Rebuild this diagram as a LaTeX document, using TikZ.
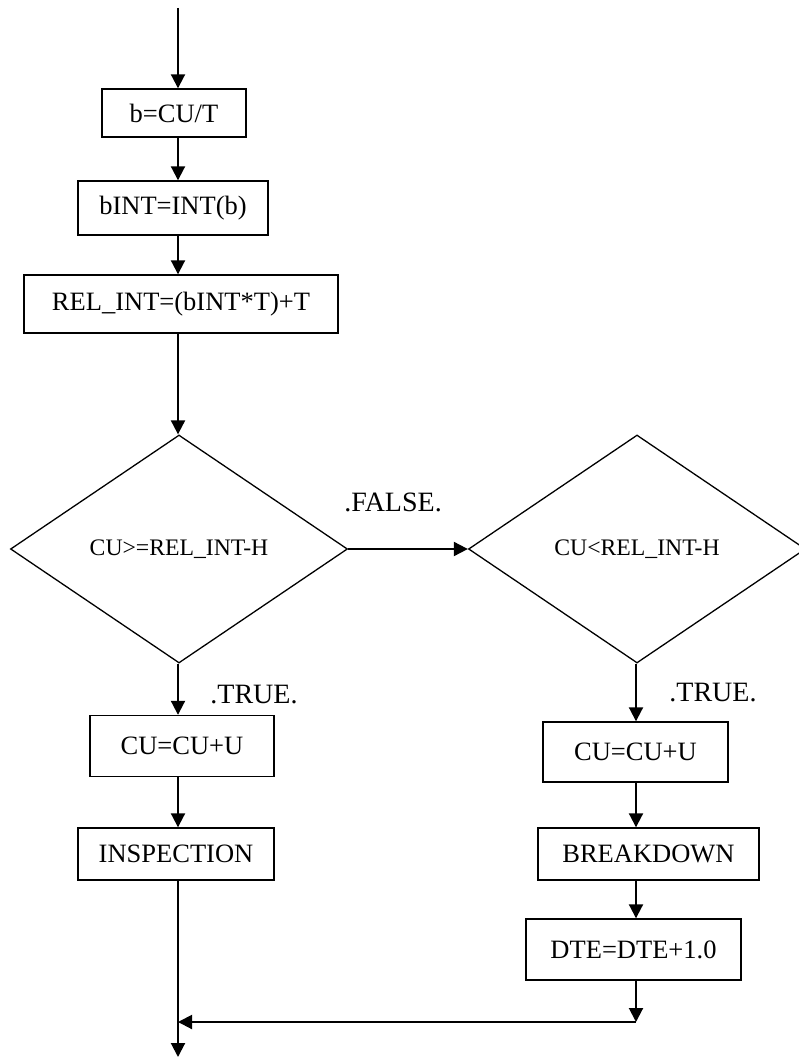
\documentclass[tikz,border=0pt]{standalone}
\usepackage{fontspec}
\setmainfont{Liberation Serif}
\usepackage{tikz}
\usetikzlibrary{shapes.geometric, arrows.meta, positioning}

\begin{document}
\begin{tikzpicture}[x=1pt, y=-1pt,
        procbox/.style={rectangle, draw, line width=1.4pt, inner sep=0pt, align=center, font=\fontsize{26.5}{30}\selectfont},
        decision/.style={diamond, draw, line width=1.3pt, inner sep=0pt, minimum width=337pt, minimum height=228pt, font=\fontsize{23.7}{27}\selectfont},
        flag/.style={inner sep=0pt, font=\fontsize{28}{32}\selectfont},
        arr/.style={-{Triangle[length=14pt, width=14pt]}, line width=2pt}
      ]
        \useasboundingbox (0,0) rectangle (798,1059);
        % column lines
        \coordinate (lx) at (178,0);
        \coordinate (rx) at (636,0);
        \coordinate (start) at (178,8);
        \coordinate (ml) at (178,1022);
        \coordinate (mr) at (636,1022);
        \coordinate (stop) at (178,1057);

        \node[procbox, minimum width=144pt, minimum height=48pt] (ratio) at (174,113) {b=CU/T};
        \node[procbox, minimum width=190pt, minimum height=54pt] (bint) at (173,208) {bINT=INT(b)};
        \node[procbox, minimum width=314pt, minimum height=58pt] (relint) at (181,304) {REL\_INT=(bINT*T)+T};
        \node[decision] (chkinsp) at (179,549) {CU>=REL\_INT-H};
        \node[decision] (chkbreak) at (637,549) {CU<REL\_INT-H};
        \node[procbox, minimum width=184pt, minimum height=61pt] (culeft) at (182,746) {CU=CU+U};
        \node[procbox, minimum width=196pt, minimum height=52pt] (insp) at (176,854) {INSPECTION};
        \node[procbox, minimum width=185pt, minimum height=60pt] (curight) at (635.5,752) {CU=CU+U};
        \node[procbox, minimum width=221pt, minimum height=52pt] (brk) at (648.5,854) {BREAKDOWN};
        \node[procbox, minimum width=215pt, minimum height=61pt] (dte) at (633.5,949.5) {DTE=DTE+1.0};

        \node[flag] (lfalse) at (393,502) {.FALSE.};
        \node[flag] (ltrueL) at (254,695) {.TRUE.};
        \node[flag] (ltrueR) at (713,692.5) {.TRUE.};

        \draw[arr] (start) -- (ratio.north -| lx);
        \draw[arr] (ratio.south -| lx) -- (bint.north -| lx);
        \draw[arr] (bint.south -| lx) -- (relint.north -| lx);
        \draw[arr] (relint.south -| lx) -- (chkinsp.north -| lx);
        \draw[arr] (chkinsp.east) -- (chkbreak.west);
        \draw[arr] (chkinsp.south -| lx) -- (culeft.north -| lx);
        \draw[arr] (culeft.south -| lx) -- (insp.north -| lx);
        \draw[arr] (insp.south -| lx) -- (stop);
        \draw[arr] (chkbreak.south -| rx) -- (curight.north -| rx);
        \draw[arr] (curight.south -| rx) -- (brk.north -| rx);
        \draw[arr] (brk.south -| rx) -- (dte.north -| rx);
        \draw[arr] (dte.south -| rx) -- (mr);
        \draw[arr] (mr) -- (ml);
      \end{tikzpicture}
\end{document}
